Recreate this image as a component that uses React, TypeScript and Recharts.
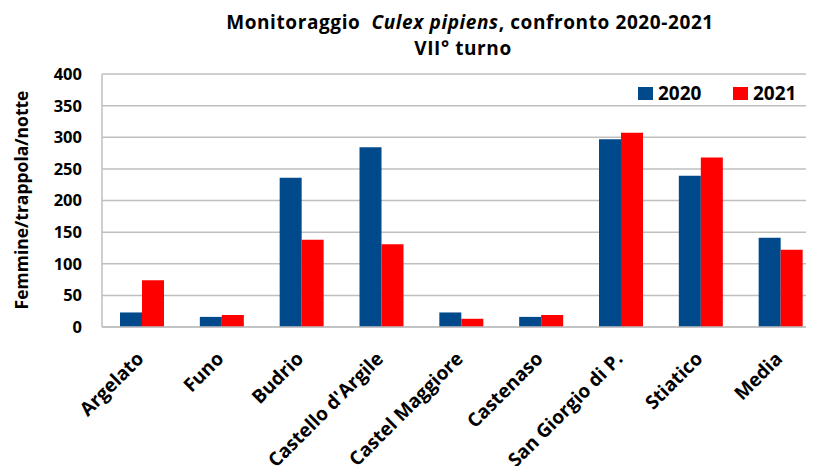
import React from 'react';
import { BarChart, Bar, XAxis, YAxis, CartesianGrid, Label } from 'recharts';

const categories = ['Argelato', 'Funo', 'Budrio', "Castello d'Argile", 'Castel Maggiore', 'Castenaso', 'San Giorgio di P.', 'Stiatico', 'Media'];
const values2020 = [23, 16, 236, 284, 23, 16, 297, 239, 141];
const values2021 = [74, 19, 138, 131, 13, 19, 307, 268, 122];
const seriesNames = ['2020', '2021'];
const yTicks = [0, 50, 100, 150, 200, 250, 300, 350, 400];
const yLabel = 'Femmine/trappola/notte';
const titleParts = ['Monitoraggio\u00a0\u00a0', 'Culex pipiens', ', confronto 2020-2021'];
const subtitle = 'VII° turno';

const COLORS = ['#004A8C', '#FF0000'];
const FONT = '"Open Sans", sans-serif';
const GRID = '#BFBFBF';

const data = categories.map((c, i) => ({ name: c, v2020: values2020[i], v2021: values2021[i] }));

const XTick = (props: any) => {
  const { x, y, payload } = props;
  const ax = x + 3;
  const ay = y + 31;
  return (
    <text x={ax} y={ay} transform={`rotate(-45, ${ax}, ${ay})`} textAnchor="end" fontFamily={FONT} fontWeight={700} fontSize={19} fill="#000">
      {payload.value}
    </text>
  );
};

const YTick = (props: any) => {
  const { x, y, payload } = props;
  return (
    <text x={x} y={y} dy="0.36em" textAnchor="end" fontFamily={FONT} fontWeight={700} fontSize={16.5} fill="#000">
      {payload.value}
    </text>
  );
};

export default function App() {
  return (
    <div style={{ position: 'relative', margin: -8, width: 814, height: 474, overflow: 'hidden', background: '#fff' }}>
      <BarChart
        width={822}
        height={474}
        data={data}
        margin={{ top: 74, right: 1.5, left: 0, bottom: 0 }}
        barGap={0}
        barSize={22}
        style={{ position: 'absolute', left: 0, top: 0 }}
      >
        <CartesianGrid vertical={false} stroke={GRID} strokeWidth={1.5} />
        <XAxis
          dataKey="name"
          height={147}
          interval={0}
          tickLine={false}
          tickSize={0}
          tick={<XTick />}
          axisLine={{ stroke: GRID, strokeWidth: 1.5 }}
        />
        <YAxis
          width={102}
          domain={[0, 400]}
          ticks={yTicks}
          interval={0}
          tickLine={false}
          tickSize={0}
          tickMargin={20}
          tick={<YTick />}
          axisLine={{ stroke: GRID, strokeWidth: 1.5 }}
        >
          <Label
            content={() => (
              <text x={28} y={200} transform="rotate(-90, 28, 200)" textAnchor="middle" fontFamily={FONT} fontWeight={700} fontSize={17.5} fill="#000">
                {yLabel}
              </text>
            )}
          />
        </YAxis>
        <Bar dataKey="v2020" name={seriesNames[0]} fill={COLORS[0]} isAnimationActive={false} />
        <Bar dataKey="v2021" name={seriesNames[1]} fill={COLORS[1]} isAnimationActive={false} />
      </BarChart>
      <svg width={814} height={110} style={{ position: 'absolute', left: 0, top: 0, pointerEvents: 'none' }}>
        <text textAnchor="middle" fontFamily={FONT} fontWeight={700} fontSize={19} letterSpacing={0.6} fill="#000">
          <tspan x={470} y={29}>
            {titleParts[0]}
            <tspan fontStyle="italic">{titleParts[1]}</tspan>
            {titleParts[2]}
          </tspan>
          <tspan x={463} y={55}>{subtitle}</tspan>
        </text>
        {seriesNames.map((n, i) => (
          <g key={n}>
            <rect x={638 + i * 95} y={87} width={15} height={13} fill={COLORS[i]} />
            <text x={658 + i * 95} y={100} fontFamily={FONT} fontWeight={700} fontSize={19} fill="#000">
              {n}
            </text>
          </g>
        ))}
      </svg>
    </div>
  );
}
